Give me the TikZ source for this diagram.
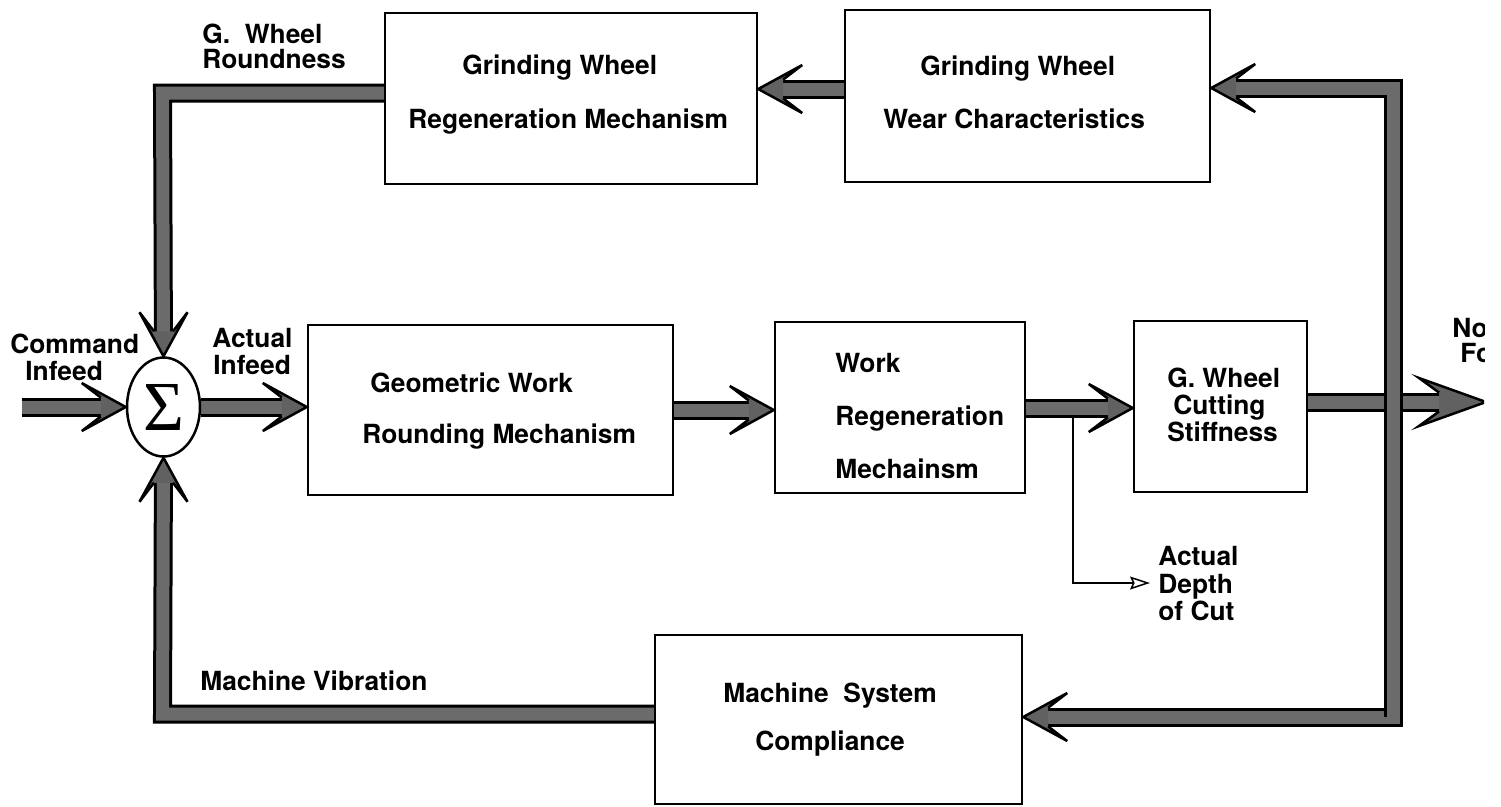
\documentclass[tikz,border=0pt]{standalone}
\usepackage{fontspec}
\setmainfont{TeX Gyre Heros}
\newfontfamily\sigfont{Liberation Serif}
\usetikzlibrary{arrows.meta,shapes.geometric,backgrounds}
\tikzset{
  box/.style={draw, line width=0.05cm, inner sep=0pt},
  lbl/.style={anchor=base west, inner sep=0pt},
  band/.style={draw=black, line width=0.06cm, double=black!58, double distance=0.26cm, line join=miter},
  thin link/.style={line width=0.03cm, -{Stealth[open, fill=white, length=0.4cm, width=0.26cm, inset=0.06cm]}},
  bhead/.pic={
    \fill[black!62] (-25,-9.5) -- (-44,-24) -- (0,0) -- (-44,24) -- (-25,9.5) -- cycle;
    \draw[line width=0.05cm, line join=miter] (-25,-9.5) -- (-44,-24) -- (0,0) -- (-44,24) -- (-25,9.5);
  },
  lhead/.pic={
    \fill[black!62] (-47,-9.5) -- (-67,-24) -- (0,0) -- (-67,24) -- (-47,9.5) -- cycle;
    \draw[line width=0.05cm, line join=miter] (-47,-9.5) -- (-67,-24) -- (0,0) -- (-67,24) -- (-47,9.5);
  }
}
\begin{document}
\begin{tikzpicture}[x=0.02cm, y=-0.02cm, font=\fontsize{15}{18}\selectfont\bfseries]
\useasboundingbox (0,0) rectangle (1501,806);

% blocks
\node[box, minimum width=7.44cm, minimum height=3.42cm] (grw) at (571,98.5) {};
\node[box, minimum width=7.3cm, minimum height=3.44cm] (gww) at (1027.5,96) {};
\node[box, minimum width=7.3cm, minimum height=3.4cm] (geo) at (490.5,410) {};
\node[box, minimum width=5cm, minimum height=3.42cm] (wrk) at (900,407.5) {};
\node[box, minimum width=3.46cm, minimum height=3.42cm] (gcs) at (1220.5,406.5) {};
\node[box, minimum width=7.34cm, minimum height=3.38cm] (msc) at (838.5,719.5) {};
\node[draw, ellipse, line width=0.05cm, minimum width=1.46cm, minimum height=1.98cm, inner sep=0pt] (sig) at (163.5,407) {\fontsize{40}{40}\selectfont\sigfont\mdseries Σ};

% texts
\node[lbl] (t1a) at (462,74) {Grinding Wheel};
\node[lbl] (t1b) at (408,128) {Regeneration Mechanism};
\node[lbl] (t2a) at (920,75) {Grinding Wheel};
\node[lbl] (t2b) at (883,128) {Wear Characteristics};
\node[lbl] (rnd1) at (202,43) {G.~ Wheel};
\node[lbl] (rnd2) at (202,68) {Roundness};
\node[lbl] (ci1) at (10,353) {Command};
\node[lbl] (ci2) at (25,380) {Infeed};
\node[lbl] (ai1) at (212,347) {Actual};
\node[lbl] (ai2) at (213,374) {Infeed};
\node[lbl] (g1) at (370,392) {Geometric Work};
\node[lbl] (g2) at (362,443) {Rounding Mechanism};
\node[lbl] (w1) at (835,372) {Work};
\node[lbl] (w2) at (835,425) {Regeneration};
\node[lbl] (w3) at (835,478) {Mechainsm};
\node[lbl] (c1) at (1167,387) {G. Wheel};
\node[lbl] (c2) at (1173,414) {Cutting};
\node[lbl] (c3) at (1167,441) {Stiffness};
\node[lbl] (m1) at (723,702) {Machine~ System};
\node[lbl] (m2) at (755,750) {Compliance};
\node[lbl] (mv) at (200,690) {Machine Vibration};
\node[lbl] (d1) at (1158,565) {Actual};
\node[lbl] (d2) at (1158,593) {Depth};
\node[lbl] (d3) at (1158,620) {of Cut};
\begin{scope}
  \clip (0,0) rectangle (1484,806);
  \node[lbl] (n1) at (1452,337) {Normal};
  \node[lbl] (n2) at (1460,362) {Force};
\end{scope}

% helper points
\coordinate (cin) at (22,407);
\coordinate (tl) at (162.5,93);
\coordinate (bl) at (162.5,714);
\coordinate (midtop) at (800,89);
\coordinate (row) at (700,410);
\coordinate (row2) at (1080,408);
\coordinate (outy) at (1350,402);
\coordinate (nf) at (1486,402);
\coordinate (rt) at (1393,88);
\coordinate (rb) at (1393,717);
\coordinate (brk) at (1073,408);
\coordinate (dcut) at (1150,583);

\begin{scope}[on background layer]
  \clip (0,0) rectangle (1484,806);
  % take-off to actual depth of cut
  \draw[thin link] (brk) |- (dcut);
  % main forward path
  \draw[band, shorten >=0.48cm] (cin) -- (sig.west);
  \draw[band, shorten >=0.48cm] (sig.east) -- (sig.east -| geo.west);
  \draw[band, shorten >=0.48cm] (geo.east |- row) -- (wrk.west |- row);
  \draw[band, shorten >=0.48cm] (wrk.east |- row2) -- (gcs.west |- row2);
  \draw[band, shorten >=0.92cm] (gcs.east |- outy) -- (nf);
  % right loop
  \draw[band, shorten >=0.48cm] (rt) -- (rb) -- (rb -| msc.east);
  \draw[band, shorten >=0.48cm] (rb) -- (rt) -- (rt -| gww.east);
  % top path
  \draw[band, shorten >=0.48cm] (gww.west |- midtop) -- (grw.east |- midtop);
  \draw[band, shorten >=0.48cm] (grw.west |- tl) -- (tl) -- (sig.north);
  % bottom path
  \draw[band, shorten >=0.48cm] (msc.west |- bl) -- (bl) -- (sig.south);
  % arrow heads
  \pic at (sig.west) {bhead};
  \pic at (sig.east -| geo.west) {bhead};
  \pic at (wrk.west |- row) {bhead};
  \pic at (gcs.west |- row2) {bhead};
  \pic at (nf) {lhead};
  \pic[rotate=180] at (rb -| msc.east) {bhead};
  \pic[rotate=180] at (rt -| gww.east) {bhead};
  \pic[rotate=180] at (grw.east |- midtop) {bhead};
  \pic[rotate=-90] at (sig.north) {bhead};
  \pic[rotate=90] at (sig.south) {bhead};
\end{scope}
\end{tikzpicture}
\end{document}
